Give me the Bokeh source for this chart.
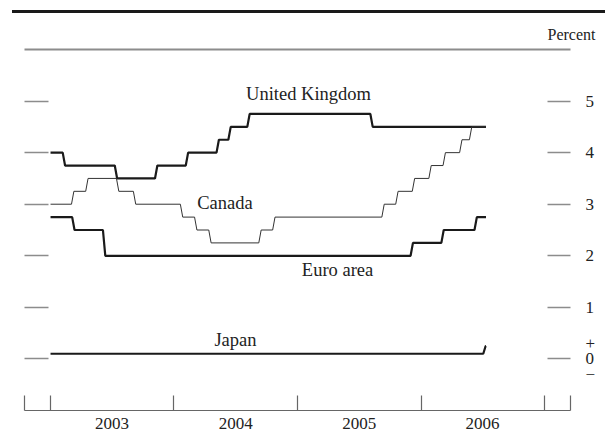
import pandas as pd
from bokeh.plotting import figure
from bokeh.layouts import column
from bokeh.models import (ColumnDataSource, Range1d, LinearAxis, FixedTicker, Div)
from bokeh.core.properties import value
from bokeh.embed import file_html
from bokeh.resources import INLINE

# ---------------- data ----------------
uk_dates = ["2003-01-01", "2003-02-06", "2003-07-10", "2003-11-06", "2004-02-05",
            "2004-05-06", "2004-06-10", "2004-08-05", "2005-08-04"]
uk_rates = [4.0, 3.75, 3.5, 3.75, 4.0, 4.25, 4.5, 4.75, 4.5]

canada_dates = ["2003-01-01", "2003-03-04", "2003-04-15", "2003-07-15", "2003-09-03",
                "2004-01-20", "2004-03-02", "2004-04-13", "2004-09-08", "2004-10-19",
                "2005-09-07", "2005-10-18", "2005-12-06", "2006-01-24", "2006-03-07",
                "2006-04-25", "2006-05-24"]
canada_rates = [3.0, 3.25, 3.5, 3.25, 3.0, 2.75, 2.5, 2.25, 2.5, 2.75,
                3.0, 3.25, 3.5, 3.75, 4.0, 4.25, 4.5]

euro_dates = ["2003-01-01", "2003-03-06", "2003-06-05", "2005-12-01", "2006-03-02",
              "2006-06-08"]
euro_rates = [2.75, 2.5, 2.0, 2.25, 2.5, 2.75]

japan_dates = ["2003-01-01", "2006-07-04"]
japan_rates = [0.1, 0.25]

end_date = "2006-07-12"

year_labels = ["2003", "2004", "2005", "2006"]
y_ticks = [0, 1, 2, 3, 4, 5]

series_labels = ["United Kingdom", "Canada", "Euro area", "Japan"]
series_label_dates = ["2005-02-02", "2004-05-31", "2005-04-29", "2004-07-01"]
series_label_values = [5.13, 3.02, 1.73, 0.37]

x_start_date = "2002-10-16"
x_end_date = "2007-03-19"
y_start, y_end = -1.0, 6.0

# ---------------- helpers ----------------
DAY = 86400000.0


def ms(d):
    return pd.Timestamp(d).value / 1e6


def step_path(dates, rates, end, ramp_days=7):
    xs = [ms(dates[0])]
    ys = [rates[0]]
    for i in range(1, len(dates)):
        d = ms(dates[i])
        xs += [d, d + ramp_days * DAY]
        ys += [rates[i - 1], rates[i]]
    e = ms(end)
    if xs[-1] < e:
        xs.append(e)
        ys.append(rates[-1])
    return xs, ys


x0, x1 = ms(x_start_date), ms(x_end_date)
year_bounds = [ms(f"{y}-01-01") for y in range(2003, 2008)]
mid_years = [ms(f"{y}-07-02") for y in range(2003, 2007)]

FONT = "Liberation Serif"
TICK_GRAY = "#8c8c8c"
INK = "#1a1a1a"

TOP_H = 14  # strip holding the heavy rule

p = figure(width=605, height=437 - TOP_H, output_backend="svg", toolbar_location=None,
           x_axis_type=None, y_axis_type=None,
           x_range=Range1d(x0, x1), y_range=Range1d(y_start, y_end),
           min_border_left=24, min_border_right=35, min_border_top=49 - TOP_H,
           min_border_bottom=27)
p.outline_line_color = None
p.xgrid.visible = False
p.ygrid.visible = False
p.background_fill_color = "white"
p.border_fill_color = "white"

# "Percent" unit label as the title, right aligned past the frame
p.title.text = "Percent"
p.title.align = "right"
p.title.offset = -25
p.title.standoff = 13
p.title.text_font = FONT
p.title.text_font_size = "16px"
p.title.text_font_style = "normal"
p.title.text_color = "#222222"

# series lines
for dates, rates, lw, col in [(uk_dates, uk_rates, 2.2, INK),
                              (euro_dates, euro_rates, 2.2, INK),
                              (japan_dates, japan_rates, 2.2, INK),
                              (canada_dates, canada_rates, 1.0, "#333333")]:
    xs, ys = step_path(dates, rates, end_date)
    p.line(xs, ys, line_width=lw, line_color=col)

# series labels
lab_src = ColumnDataSource(dict(x=[ms(d) for d in series_label_dates],
                                y=series_label_values, t=series_labels))
p.text(x="x", y="y", text="t", source=lab_src, text_font=value(FONT),
       text_font_size="18.5px", text_align="center", text_baseline="middle",
       text_color="#222222")

# bottom axis: year labels at mid-year, year boundary ticks as minor ticks
xax = LinearAxis(ticker=FixedTicker(ticks=mid_years,
                                    minor_ticks=[x0] + year_bounds + [x1]))
xax.major_label_overrides = {t: lab for t, lab in zip(mid_years, year_labels)}
xax.major_tick_in = 0
xax.major_tick_out = 0
xax.minor_tick_in = 15
xax.minor_tick_out = 0
xax.minor_tick_line_color = "#666666"
xax.minor_tick_line_width = 1.2
xax.axis_line_color = "#666666"
xax.axis_line_width = 1.2
xax.major_label_standoff = 7
xax.major_label_text_font = FONT
xax.major_label_text_font_size = "17px"
xax.major_label_text_color = "#222222"
p.add_layout(xax, "below")

# top grey rule (frame top)
tax = LinearAxis(ticker=FixedTicker(ticks=[], minor_ticks=[]))
tax.axis_line_color = TICK_GRAY
tax.axis_line_width = 2
tax.major_tick_line_color = None
tax.minor_tick_line_color = None
p.add_layout(tax, "above")

# left ticks (no labels): drawn as minor ticks
lax = LinearAxis(ticker=FixedTicker(ticks=[], minor_ticks=y_ticks))
lax.axis_line_color = None
lax.major_tick_line_color = None
lax.minor_tick_in = 24
lax.minor_tick_out = 0
lax.minor_tick_line_color = TICK_GRAY
lax.minor_tick_line_width = 1.5
p.add_layout(lax, "left")

# right ticks with labels
rax = LinearAxis(ticker=FixedTicker(ticks=y_ticks))
rax.axis_line_color = None
rax.major_tick_in = 23
rax.major_tick_out = 0
rax.major_tick_line_color = TICK_GRAY
rax.major_tick_line_width = 1.5
rax.minor_tick_line_color = None
rax.major_label_overrides = {0: "+\n0\n\u2212"}
rax.major_label_standoff = 15
rax.major_label_text_font = FONT
rax.major_label_text_font_size = "17px"
rax.major_label_text_color = "#222222"
rax.major_label_text_line_height = 0.8
p.add_layout(rax, "right")

# heavy rule at the very top of the chart
top_rule = Div(width=605, height=TOP_H, margin=(0, 0, 0, 0),
               text='<div style="margin:10px 0 0 12px;height:3px;width:593px;'
                    'background:#1a1a1a"></div>')

layout = column(top_rule, p, spacing=0)

open("out.html", "w").write(file_html(layout, INLINE))
